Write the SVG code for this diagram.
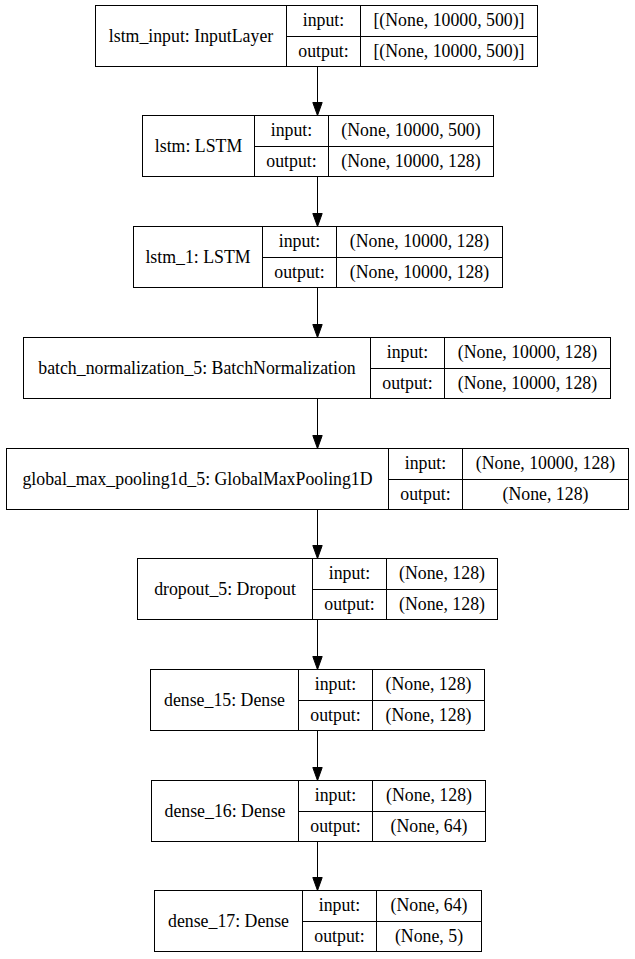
<svg xmlns="http://www.w3.org/2000/svg" width="635" height="959" viewBox="0 0 635 959">
<style>
.b{fill:#fff;stroke:#000;stroke-width:1}
.l{stroke:#000;stroke-width:1;fill:none}
.t text{font-size:17.8px;fill:#000;text-anchor:middle}
.e{stroke:#000;stroke-width:1;fill:none}
.h{fill:#000;stroke:#000;stroke-width:1}
</style>
<rect x="0" y="0" width="635" height="959" fill="#fff"/>
<g id="edges">
<line class="e" x1="317.5" y1="66.5" x2="317.5" y2="102.5"/><polygon class="h" points="312.8,102.5 322.2,102.5 317.5,115.5"/>
<line class="e" x1="317.5" y1="176.5" x2="317.5" y2="213.5"/><polygon class="h" points="312.8,213.5 322.2,213.5 317.5,226.5"/>
<line class="e" x1="317.5" y1="287.5" x2="317.5" y2="324.5"/><polygon class="h" points="312.8,324.5 322.2,324.5 317.5,337.5"/>
<line class="e" x1="317.5" y1="398.5" x2="317.5" y2="435.5"/><polygon class="h" points="312.8,435.5 322.2,435.5 317.5,448.5"/>
<line class="e" x1="317.5" y1="509.5" x2="317.5" y2="545.5"/><polygon class="h" points="312.8,545.5 322.2,545.5 317.5,558.5"/>
<line class="e" x1="317.5" y1="619.5" x2="317.5" y2="656.5"/><polygon class="h" points="312.8,656.5 322.2,656.5 317.5,669.5"/>
<line class="e" x1="317.5" y1="730.5" x2="317.5" y2="767.5"/><polygon class="h" points="312.8,767.5 322.2,767.5 317.5,780.5"/>
<line class="e" x1="317.5" y1="841.5" x2="317.5" y2="877.5"/><polygon class="h" points="312.8,877.5 322.2,877.5 317.5,890.5"/>
</g>
<g class="t" font-family="Liberation Serif, DejaVu Serif, Times New Roman, serif">
<g id="lstm_input">
<rect class="b" x="95.5" y="5.5" width="442" height="61"/>
<line class="l" x1="286.5" y1="5.5" x2="286.5" y2="66.5"/><line class="l" x1="360.5" y1="5.5" x2="360.5" y2="66.5"/><line class="l" x1="286.5" y1="36.5" x2="537.5" y2="36.5"/>
<text x="191" y="41.5">lstm_input: InputLayer</text>
<text x="323.5" y="26">input:</text><text x="323.5" y="56.5">output:</text>
<text x="449" y="26">[(None, 10000, 500)]</text><text x="449" y="56.5">[(None, 10000, 500)]</text>
</g>
<g id="lstm">
<rect class="b" x="142.5" y="115.5" width="351" height="61"/>
<line class="l" x1="254.5" y1="115.5" x2="254.5" y2="176.5"/><line class="l" x1="328.5" y1="115.5" x2="328.5" y2="176.5"/><line class="l" x1="254.5" y1="146.5" x2="493.5" y2="146.5"/>
<text x="198.5" y="151.5">lstm: LSTM</text>
<text x="291.5" y="136">input:</text><text x="291.5" y="166.5">output:</text>
<text x="411" y="136">(None, 10000, 500)</text><text x="411" y="166.5">(None, 10000, 128)</text>
</g>
<g id="lstm_1">
<rect class="b" x="133.5" y="226.5" width="369" height="61"/>
<line class="l" x1="262.5" y1="226.5" x2="262.5" y2="287.5"/><line class="l" x1="336.5" y1="226.5" x2="336.5" y2="287.5"/><line class="l" x1="262.5" y1="257.5" x2="502.5" y2="257.5"/>
<text x="198" y="262.5">lstm_1: LSTM</text>
<text x="299.5" y="247">input:</text><text x="299.5" y="277.5">output:</text>
<text x="419.5" y="247">(None, 10000, 128)</text><text x="419.5" y="277.5">(None, 10000, 128)</text>
</g>
<g id="batch_normalization_5">
<rect class="b" x="23.5" y="337.5" width="587" height="61"/>
<line class="l" x1="370.5" y1="337.5" x2="370.5" y2="398.5"/><line class="l" x1="444.5" y1="337.5" x2="444.5" y2="398.5"/><line class="l" x1="370.5" y1="368.5" x2="610.5" y2="368.5"/>
<text x="197" y="373.5">batch_normalization_5: BatchNormalization</text>
<text x="407.5" y="358">input:</text><text x="407.5" y="388.5">output:</text>
<text x="527.5" y="358">(None, 10000, 128)</text><text x="527.5" y="388.5">(None, 10000, 128)</text>
</g>
<g id="global_max_pooling1d_5">
<rect class="b" x="6.5" y="448.5" width="622" height="61"/>
<line class="l" x1="388.5" y1="448.5" x2="388.5" y2="509.5"/><line class="l" x1="462.5" y1="448.5" x2="462.5" y2="509.5"/><line class="l" x1="388.5" y1="479.5" x2="628.5" y2="479.5"/>
<text x="197.5" y="484.5">global_max_pooling1d_5: GlobalMaxPooling1D</text>
<text x="425.5" y="469">input:</text><text x="425.5" y="499.5">output:</text>
<text x="545.5" y="469">(None, 10000, 128)</text><text x="545.5" y="499.5">(None, 128)</text>
</g>
<g id="dropout_5">
<rect class="b" x="137.5" y="558.5" width="360" height="61"/>
<line class="l" x1="312.5" y1="558.5" x2="312.5" y2="619.5"/><line class="l" x1="386.5" y1="558.5" x2="386.5" y2="619.5"/><line class="l" x1="312.5" y1="589.5" x2="497.5" y2="589.5"/>
<text x="225" y="594.5">dropout_5: Dropout</text>
<text x="349.5" y="579">input:</text><text x="349.5" y="609.5">output:</text>
<text x="442" y="579">(None, 128)</text><text x="442" y="609.5">(None, 128)</text>
</g>
<g id="dense_15">
<rect class="b" x="150.5" y="669.5" width="334" height="61"/>
<line class="l" x1="298.5" y1="669.5" x2="298.5" y2="730.5"/><line class="l" x1="372.5" y1="669.5" x2="372.5" y2="730.5"/><line class="l" x1="298.5" y1="700.5" x2="484.5" y2="700.5"/>
<text x="224.5" y="705.5">dense_15: Dense</text>
<text x="335.5" y="690">input:</text><text x="335.5" y="720.5">output:</text>
<text x="428.5" y="690">(None, 128)</text><text x="428.5" y="720.5">(None, 128)</text>
</g>
<g id="dense_16">
<rect class="b" x="151.5" y="780.5" width="334" height="61"/>
<line class="l" x1="298.5" y1="780.5" x2="298.5" y2="841.5"/><line class="l" x1="372.5" y1="780.5" x2="372.5" y2="841.5"/><line class="l" x1="298.5" y1="811.5" x2="485.5" y2="811.5"/>
<text x="225" y="816.5">dense_16: Dense</text>
<text x="335.5" y="801">input:</text><text x="335.5" y="831.5">output:</text>
<text x="429" y="801">(None, 128)</text><text x="429" y="831.5">(None, 64)</text>
</g>
<g id="dense_17">
<rect class="b" x="154.5" y="890.5" width="327" height="61"/>
<line class="l" x1="302.5" y1="890.5" x2="302.5" y2="951.5"/><line class="l" x1="376.5" y1="890.5" x2="376.5" y2="951.5"/><line class="l" x1="302.5" y1="921.5" x2="481.5" y2="921.5"/>
<text x="228.5" y="926.5">dense_17: Dense</text>
<text x="339.5" y="911">input:</text><text x="339.5" y="941.5">output:</text>
<text x="429" y="911">(None, 64)</text><text x="429" y="941.5">(None, 5)</text>
</g>
</g>
</svg>
